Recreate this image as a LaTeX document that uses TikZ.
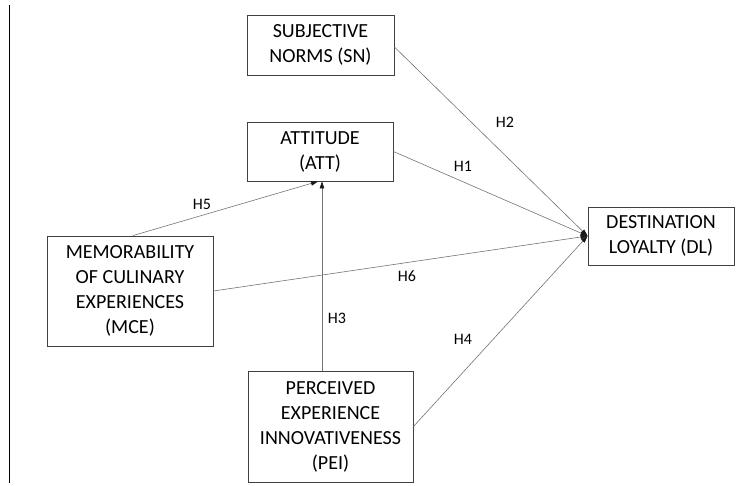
\documentclass[tikz,border=0pt]{standalone}
\usepackage{fontspec}
\setmainfont{Carlito}
\usetikzlibrary{positioning, arrows.meta}

\begin{document}
\begin{tikzpicture}[
        x=1pt, y=-1pt,
        % Stili per i blocchi
        construct/.style={rectangle, draw=black!75, line width=0.9pt, fill=white, align=center, inner sep=2pt,
            text=black, font=\fontsize{20}{25}\selectfont},
        % Stili per le etichette e frecce
        hyp/.style={font=\fontsize{16}{18}\selectfont, text=black},
        link/.style={draw=black!55, line width=0.6pt},
        arrow/.style={link, -{Triangle[length=7pt, width=4.5pt, color=black!90]}}
    ]
    \useasboundingbox (0,0) rectangle (744,485);

    % --- MARGIN LINE ---
    \coordinate (top) at (9,5);
    \coordinate (bottom) at (9,483);
    \draw[black, line width=0.8pt] (top) -- (bottom);

    % --- CONSTRUCTS ---
    \node[construct, minimum width=147pt, minimum height=60pt] (SN) at (320.5,45) {SUBJECTIVE\\NORMS (SN)};
    \node[construct, minimum width=146pt, minimum height=59pt] (ATT) at (320,151.5) {ATTITUDE\\(ATT)};
    \node[construct, minimum width=166pt, minimum height=110pt] (MCE) at (130,291) {MEMORABILITY\\OF CULINARY\\EXPERIENCES\\(MCE)};
    \node[construct, minimum width=165pt, minimum height=111pt] (PEI) at (330.5,426.5) {PERCEIVED\\EXPERIENCE\\INNOVATIVENESS\\(PEI)};
    \node[construct, minimum width=146pt, minimum height=58pt] (DL) at (661,236) {DESTINATION\\LOYALTY (DL)};

    % --- ARROWS ---
    \draw[arrow] ([yshift=-2pt]SN.east) -- (DL.west);
    \draw[arrow] (ATT.east) -- (DL.west);
    \draw[arrow] (MCE.east) -- (DL.west);
    \draw[arrow] (PEI.east) -- (DL.west);
    \draw[arrow] ([xshift=3pt]MCE.north) -- ([xshift=-2pt]ATT.south);
    \draw[arrow] ([xshift=-8.5pt]PEI.north) -- ([xshift=2pt]ATT.south);

    % --- HYPOTHESES ---
    \node[hyp] (H1) at (463,166) {H1};
    \node[hyp] (H2) at (505,122) {H2};
    \node[hyp] (H3) at (337,318) {H3};
    \node[hyp] (H4) at (463,339) {H4};
    \node[hyp] (H5) at (202,204) {H5};
    \node[hyp] (H6) at (407,276) {H6};

\end{tikzpicture}
\end{document}
